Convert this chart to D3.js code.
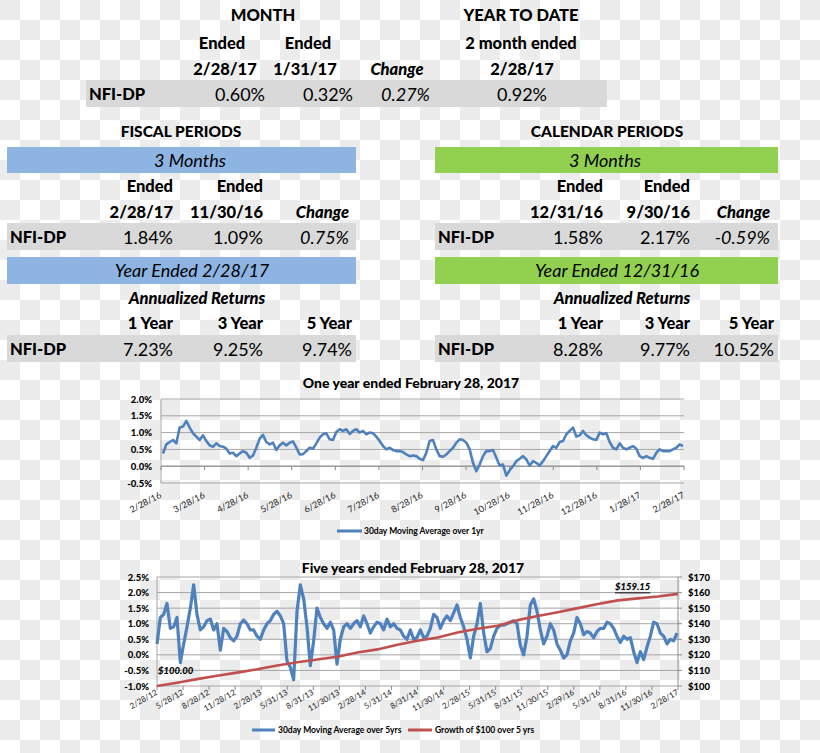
<!DOCTYPE html>
<html lang="en">
<head>
<meta charset="UTF-8">
<title>NFI-DP Returns</title>
<style>
  body { margin: 0; padding: 0; background: #fff; }
  svg { display: block; }
  text { font-family: 'Lato', 'Open Sans', sans-serif; fill: #000; }
  .hd { font-size: 16.5px; font-weight: 900; }
  .val { font-size: 18px; }
  .it { font-style: italic; }
  .ax { font-size: 9.5px; font-weight: 900; }
  .xl { font-size: 9px; fill: #222; }
  .xl2 { font-size: 8px; fill: #222; }
  .lg { font-size: 8.5px; font-weight: 700; }
  .title { font-size: 14px; font-weight: 900; }
</style>
</head>
<body>
<div id="chart"></div>
<script src="https://d3js.org/d3.v7.min.js"></script>
<script>
// ---- table data ----
const monthHeads = ["2/28/17", "1/31/17"];
const monthVals = [0.60, 0.32];
const monthChange = 0.27;
const ytdEnd = "2/28/17";
const ytdVal = 0.92;

const fiscalQtrHeads = ["2/28/17", "11/30/16"];
const fiscalQtrVals = [1.84, 1.09, 0.75];
const fiscalYear = "Year Ended 2/28/17";
const fiscalAnnVals = [7.23, 9.25, 9.74];

const calQtrHeads = ["12/31/16", "9/30/16"];
const calQtrVals = [1.58, 2.17, -0.59];
const calYear = "Year Ended 12/31/16";
const calAnnVals = [8.28, 9.77, 10.52];

const annHeads = ["1 Year", "3 Year", "5 Year"];

// ---- chart 1: one year ----
const oneYrTicks = ["2/28/16", "3/28/16", "4/28/16", "5/28/16", "6/28/16", "7/28/16", "8/28/16",
  "9/28/16", "10/28/16", "11/28/16", "12/28/16", "1/28/17", "2/28/17"];
const oneYrY = [-0.5, 0, 0.5, 1.0, 1.5, 2.0];
const oneYrAvg = [
  0.38, 0.65, 0.72, 0.78, 0.68, 1.15, 1.18, 1.35, 1.15, 0.98,
  0.88, 0.78, 0.92, 0.75, 0.62, 0.58, 0.68, 0.60, 0.58, 0.52,
  0.38, 0.40, 0.30, 0.38, 0.45, 0.40, 0.25, 0.32, 0.55, 0.82,
  0.93, 0.72, 0.65, 0.70, 0.48, 0.62, 0.70, 0.62, 0.70, 0.74,
  0.55, 0.35, 0.36, 0.45, 0.55, 0.52, 0.68, 0.85, 0.95, 0.98,
  0.80, 0.78, 1.02, 1.10, 1.05, 1.10, 0.96, 1.05, 1.10, 1.00,
  1.05, 0.95, 1.00, 0.98, 0.88, 0.75, 0.60, 0.50, 0.55, 0.48,
  0.45,
  0.45, 0.42, 0.35, 0.30, 0.32, 0.30, 0.22, 0.18, 0.40, 0.75,
  0.78, 0.50, 0.30, 0.28, 0.35, 0.45, 0.55, 0.70, 0.80, 0.78,
  0.70, 0.50, 0.10, -0.15, 0.05, 0.30, 0.45, 0.45, 0.48, 0.25,
  0.02, 0.05, -0.28, -0.12, 0.00, 0.15, 0.22, 0.30, 0.20, 0.02,
  0.15, 0.10, 0.02, 0.15, 0.30, 0.45, 0.60, 0.55, 0.72, 0.75,
  0.95, 1.05, 1.15, 0.88, 0.92, 1.05, 0.92, 0.85, 0.80, 0.78,
  1.00, 0.95, 0.98, 0.72, 0.55, 0.50, 0.68, 0.55, 0.50, 0.55,
  0.60, 0.52, 0.30, 0.25, 0.30, 0.25, 0.22, 0.40, 0.50, 0.45,
  0.45, 0.45, 0.50, 0.55, 0.65, 0.60
];

// ---- chart 2: five years ----
const fiveYrTicks = ["2/28/12", "5/28/12", "8/28/12", "11/28/12", "2/28/13", "5/31/13", "8/31/13",
  "11/30/13", "2/28/14", "5/31/14", "8/31/14", "11/30/14", "2/28/15", "5/31/15", "8/31/15",
  "11/30/15", "2/29/16", "5/31/16", "8/31/16", "11/30/16", "2/28/17"];
const fiveYrY = [-1.0, -0.5, 0, 0.5, 1.0, 1.5, 2.0, 2.5];
const fiveYrDollars = [100, 110, 120, 130, 140, 150, 160, 170];
const fiveYrAvg = [
  0.35, 1.20, 1.30, 1.65, 0.85, 0.90, 1.20, -0.25, 0.35, 0.90,
  1.50, 2.25, 1.30, 0.80, 0.90, 1.10, 1.15, 0.80, 1.00, 0.15,
  0.85, 0.75, 0.55, 0.45, 0.60, 1.00, 1.12, 1.00, 0.80, 0.80,
  0.60, 0.50, 0.80, 1.00, 1.10, 1.30, 1.40, 1.25, 1.00, -0.20,
  -0.40, -0.80, 1.40, 2.25, 1.80, 0.90, -0.35, 0.45, 1.50, 1.20,
  1.00, 0.85, 1.05, 0.80, -0.30, 0.50, 0.90, 1.00, 0.85, 1.00,
  1.10, 0.90, 1.25, 1.00, 0.70, 0.90, 1.05, 1.00, 0.80, 1.15,
  0.90, 1.00, 0.85,
  0.80, 0.60, 0.50, 0.80, 0.50, 0.55, 0.80, 0.55, 0.60, 0.85,
  1.30, 1.20, 0.85, 1.10, 1.25, 1.10, 1.35, 1.60, 1.20, 0.90,
  0.50, -0.10, 0.60, 1.00, 1.65, 0.70, 0.10, 0.20, 0.60, 0.85,
  0.95, 0.95, 1.00, 1.05, 1.10, 1.00, 0.30, 0.00, 0.60, 1.60,
  1.80, 1.40, 0.80, 0.35, 0.60, 1.00, 0.80, 0.35, 0.15, -0.10,
  0.00, 0.45, 0.70, 1.20, 1.00, 0.65, 0.75, 0.70, 0.55, 0.75,
  0.85, 0.85, 1.05, 1.00, 0.85, 0.60, 0.40, 0.60, 0.50, 0.55,
  0.10, -0.25, 0.10, -0.15, 0.25, 0.60, 1.05, 1.00, 0.70, 0.60,
  0.35, 0.50, 0.45, 0.70
];
const fiveYrGrowth = [
  100.0, 102.1, 104.4, 106.6, 108.6, 110.7, 113.2, 115.2, 117.0, 118.8,
  121.5, 123.5, 126.5, 129.0, 131.2, 134.3, 136.8, 138.7, 142.3, 144.9,
  147.4, 150.0, 152.6, 155.0, 156.3, 157.5, 159.15
];

// plain hyphen for negatives, as in the spreadsheet
const fmt = d3.formatLocale({ decimal: ".", thousands: ",", grouping: [3], currency: ["$", ""], minus: "-" });
const pct = v => fmt.format(".2f")(v) + "%";
const pct1 = v => fmt.format(".1f")(v) + "%";
const dollars = v => "$" + fmt.format(".2f")(v);

const W = 820, H = 753;
const svg = d3.select("#chart").append("svg")
  .attr("width", W)
  .attr("height", H);

// checkerboard background
const pat = svg.append("defs").append("pattern")
  .attr("id", "checker")
  .attr("width", 40).attr("height", 40)
  .attr("patternUnits", "userSpaceOnUse");
pat.append("rect").attr("width", 40).attr("height", 40).attr("fill", "#ffffff");
pat.append("rect").attr("width", 20).attr("height", 20).attr("fill", "#ececec");
pat.append("rect").attr("x", 20).attr("y", 20).attr("width", 20).attr("height", 20).attr("fill", "#ececec");
svg.append("rect").attr("width", W).attr("height", H).attr("fill", "url(#checker)");

function label(g, x, y, str, cls, anchor) {
  return g.append("text")
    .attr("x", x)
    .attr("y", y)
    .attr("class", cls)
    .attr("text-anchor", anchor || "middle")
    .attr("dominant-baseline", "central")
    .text(str);
}

// ---- top table ----
const monthTbl = svg.append("g");
monthTbl.append("rect").attr("x", 86).attr("y", 80).attr("width", 521).attr("height", 27).attr("fill", "#d9d9d9");
label(monthTbl, 263, 15, "MONTH", "hd");
label(monthTbl, 521, 15, "YEAR TO DATE", "hd");
label(monthTbl, 222, 43, "Ended", "hd");
label(monthTbl, 308, 43, "Ended", "hd");
label(monthTbl, 521, 43, "2 month ended", "hd");
label(monthTbl, 225, 69, monthHeads[0], "hd");
label(monthTbl, 305, 69, monthHeads[1], "hd");
label(monthTbl, 397, 69, "Change", "hd it");
label(monthTbl, 522, 69, ytdEnd, "hd");
label(monthTbl, 89, 94, "NFI-DP", "hd", "start");
label(monthTbl, 265, 94, pct(monthVals[0]), "val", "end");
label(monthTbl, 353, 94, pct(monthVals[1]), "val", "end");
label(monthTbl, 430, 94, pct(monthChange), "val it", "end");
label(monthTbl, 522, 94, pct(ytdVal), "val");

// ---- period blocks ----
function periodBlock(o) {
  const g = svg.append("g");
  label(g, o.titleX, 131, o.title, "hd").style("font-size", "15.5px");
  g.append("rect").attr("x", o.bx).attr("y", 147).attr("width", o.bw).attr("height", 26).attr("fill", o.color);
  label(g, o.qtrX, 160, "3 Months", "val it");
  label(g, o.cols[0], 186, "Ended", "hd", "end");
  label(g, o.cols[1], 186, "Ended", "hd", "end");
  label(g, o.cols[0], 212, o.qtrHeads[0], "hd", "end");
  label(g, o.cols[1], 212, o.qtrHeads[1], "hd", "end");
  label(g, o.cols[2], 212, "Change", "hd it", "end");
  g.append("rect").attr("x", o.bx).attr("y", 223).attr("width", o.bw).attr("height", 27).attr("fill", "#d9d9d9");
  label(g, o.bx + 3, 237, "NFI-DP", "hd", "start");
  o.qtrVals.forEach((v, i) => label(g, o.cols[i], 237, pct(v), i === 2 ? "val it" : "val", "end"));
  g.append("rect").attr("x", o.bx).attr("y", 257).attr("width", o.bw).attr("height", 27).attr("fill", o.color);
  label(g, o.yearX, 270, o.year, "val it");
  label(g, o.yearX + 5, 298, "Annualized Returns", "hd it");
  annHeads.forEach((h, i) => label(g, o.annCols[i], 323, h, "hd", "end"));
  g.append("rect").attr("x", o.bx).attr("y", 335).attr("width", o.bw).attr("height", 27).attr("fill", "#d9d9d9");
  label(g, o.bx + 3, 349, "NFI-DP", "hd", "start");
  o.annVals.forEach((v, i) => label(g, o.annCols[i], 349, pct(v), "val", "end"));
}

periodBlock({
  title: "FISCAL PERIODS", titleX: 181, bx: 7, bw: 349, color: "#8db4e2",
  qtrX: 190, cols: [173, 263, 349], qtrHeads: fiscalQtrHeads, qtrVals: fiscalQtrVals,
  year: fiscalYear, yearX: 192, annCols: [173, 263, 352], annVals: fiscalAnnVals
});
periodBlock({
  title: "CALENDAR PERIODS", titleX: 607, bx: 435, bw: 343, color: "#92d050",
  qtrX: 605, cols: [603, 690, 770], qtrHeads: calQtrHeads, qtrVals: calQtrVals,
  year: calYear, yearX: 617, annCols: [603, 690, 774], annVals: calAnnVals
});

// ---- chart 1 ----
{
  const g = svg.append("g");
  const left = 161, right = 684;
  const y = d3.scaleLinear().domain([-0.5, 2.0]).range([483, 399]);
  const x = d3.scalePoint().domain(oneYrTicks).range([left, right]);
  const xi = d3.scaleLinear().domain([0, oneYrAvg.length - 1]).range([left + 2, right - 1]);

  label(g, 411, 382, "One year ended February 28, 2017", "title");

  g.selectAll(".grid").data(oneYrY).join("line")
    .attr("x1", left).attr("x2", right)
    .attr("y1", d => y(d)).attr("y2", d => y(d))
    .attr("stroke", "#a6a6a6").attr("stroke-width", 1);
  g.append("line").attr("x1", left).attr("x2", left).attr("y1", y(2.0)).attr("y2", y(-0.5))
    .attr("stroke", "#a6a6a6");
  g.append("line").attr("x1", left).attr("x2", right).attr("y1", y(0)).attr("y2", y(0))
    .attr("stroke", "#8c8c8c");
  g.selectAll(".tk").data(oneYrTicks).join("line")
    .attr("x1", d => x(d)).attr("x2", d => x(d))
    .attr("y1", y(0)).attr("y2", y(0) + 4)
    .attr("stroke", "#8c8c8c");

  oneYrY.forEach(v => label(g, 152, y(v), pct1(v), "ax", "end"));
  oneYrTicks.forEach(t => {
    g.append("text").attr("class", "xl").attr("text-anchor", "end")
      .attr("transform", `translate(${x(t) + 1},${497}) rotate(-28)`)
      .text(t);
  });

  g.append("path").datum(oneYrAvg)
    .attr("fill", "none").attr("stroke", "#4f81bd").attr("stroke-width", 2.6)
    .attr("stroke-linejoin", "round")
    .attr("d", d3.line().x((d, i) => xi(i)).y(d => y(d)));

  g.append("line").attr("x1", 337).attr("x2", 362).attr("y1", 531).attr("y2", 531)
    .attr("stroke", "#4f81bd").attr("stroke-width", 3);
  label(g, 364, 531, "30day Moving Average over 1yr", "lg", "start");
}

// ---- chart 2 ----
{
  const g = svg.append("g");
  const left = 157, right = 678;
  const y = d3.scaleLinear().domain([-1.0, 2.5]).range([686, 577]);
  const yr = d3.scaleLinear().domain([100, 170]).range([686, 577]);
  const x = d3.scalePoint().domain(fiveYrTicks).range([left, right]);
  const xi = d3.scaleLinear().domain([0, fiveYrAvg.length - 1]).range([left, right - 1]);
  const xg = d3.scaleLinear().domain([0, fiveYrGrowth.length - 1]).range([left, right]);

  label(g, 413, 567, "Five years ended February 28, 2017", "title");

  g.selectAll(".grid").data(fiveYrY).join("line")
    .attr("x1", left).attr("x2", right)
    .attr("y1", d => y(d)).attr("y2", d => y(d))
    .attr("stroke", "#a6a6a6").attr("stroke-width", 1);
  g.append("line").attr("x1", left).attr("x2", left).attr("y1", y(2.5)).attr("y2", y(-1))
    .attr("stroke", "#a6a6a6");
  g.append("line").attr("x1", right).attr("x2", right).attr("y1", y(2.5)).attr("y2", y(-1))
    .attr("stroke", "#8c8c8c");
  g.selectAll(".rtk").data(fiveYrDollars).join("line")
    .attr("x1", right).attr("x2", right + 4)
    .attr("y1", d => yr(d)).attr("y2", d => yr(d))
    .attr("stroke", "#8c8c8c");
  g.selectAll(".tk").data(fiveYrTicks).join("line")
    .attr("x1", d => x(d)).attr("x2", d => x(d))
    .attr("y1", y(-1)).attr("y2", y(-1) + 4)
    .attr("stroke", "#8c8c8c");

  fiveYrY.forEach(v => label(g, 149, y(v), pct1(v), "ax", "end"));
  fiveYrDollars.forEach(v => label(g, 688, yr(v), "$" + v, "ax", "start"));
  fiveYrTicks.forEach(t => {
    g.append("text").attr("class", "xl2").attr("text-anchor", "end")
      .attr("transform", `translate(${x(t) + 1},${694}) rotate(-30)`)
      .text(t);
  });

  g.append("path").datum(fiveYrAvg)
    .attr("fill", "none").attr("stroke", "#4f81bd").attr("stroke-width", 3.2)
    .attr("stroke-linejoin", "round")
    .attr("d", d3.line().x((d, i) => xi(i)).y(d => y(d)));
  g.append("path").datum(fiveYrGrowth)
    .attr("fill", "none").attr("stroke", "#c0504d").attr("stroke-width", 2.6)
    .attr("stroke-linejoin", "round")
    .attr("d", d3.line().x((d, i) => xg(i)).y(d => yr(d)));

  const first = fiveYrGrowth[0], last = fiveYrGrowth[fiveYrGrowth.length - 1];
  label(g, left + 1, yr(first) - 16, dollars(first), "ax it", "start");
  label(g, right - 63, yr(last) - 7, dollars(last), "ax it", "start")
    .style("text-decoration", "underline");

  g.append("line").attr("x1", 252).attr("x2", 275).attr("y1", 730).attr("y2", 730)
    .attr("stroke", "#4f81bd").attr("stroke-width", 3);
  label(g, 278, 730, "30day Moving Average over 5yrs", "lg", "start");
  g.append("line").attr("x1", 408).attr("x2", 432).attr("y1", 730).attr("y2", 730)
    .attr("stroke", "#c0504d").attr("stroke-width", 3);
  label(g, 435, 730, "Growth of $100 over 5 yrs", "lg", "start");
}
</script>
</body>
</html>
